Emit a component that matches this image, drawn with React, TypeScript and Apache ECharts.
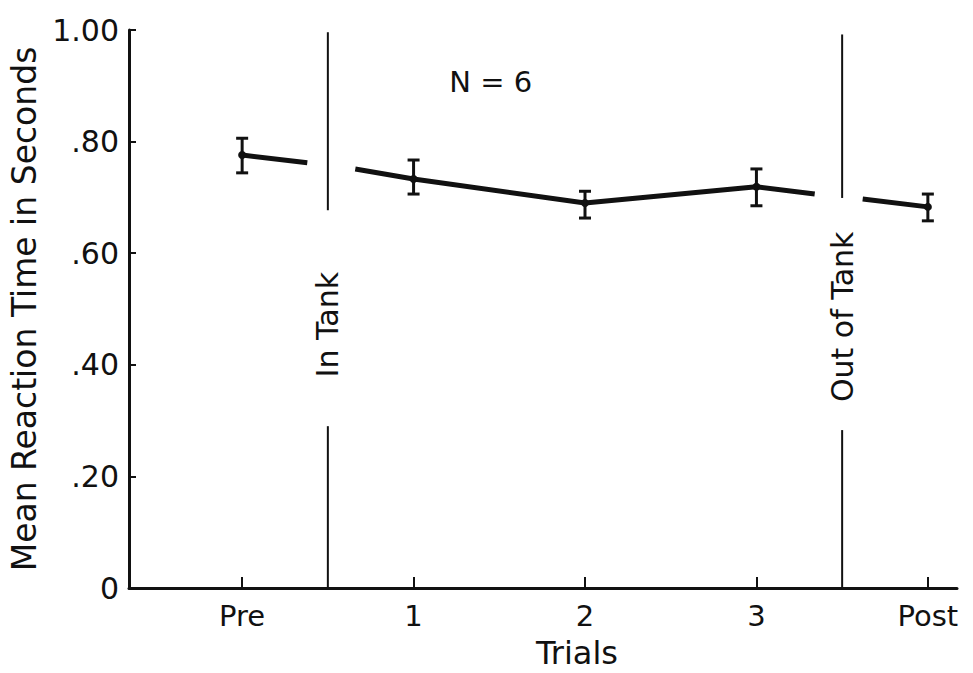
import React, { useEffect, useRef } from "react";
import * as echarts from "echarts";

// ---- data ----
const trialLabels = ["Pre", "1", "2", "3", "Post"];
const trialPos = [0, 1, 2, 3, 4];
const meanRT = [0.776, 0.733, 0.69, 0.719, 0.683];
const errLow = [0.744, 0.706, 0.663, 0.685, 0.658];
const errHigh = [0.806, 0.767, 0.711, 0.751, 0.706];

// broken connecting line: partial stubs near the phase dividers
const preStubEnd = [0.38, 0.762];
const tankStubStart = [0.66, 0.751];
const tankStubEnd = [3.34, 0.706];
const postStubStart = [3.62, 0.697];

// phase dividers
const dividerX = [0.5, 3.5];
const dividerLabels = ["In Tank", "Out of Tank"];
const dividerTop = [0.996, 0.992];
const dividerGapTop = [0.677, 0.699];
const dividerGapBottom = [0.29, 0.283];
const dividerLabelY = [0.472, 0.486];

const sampleNote = "N = 6";
const sampleNotePos = [1.45, 0.907];

const yTicks = [0, 0.2, 0.4, 0.6, 0.8, 1.0];

const FONT = "DejaVu Sans";
const INK = "#111";

export default function App() {
  const ref = useRef<HTMLDivElement>(null);

  useEffect(() => {
    if (!ref.current) return;
    const chart = echarts.init(ref.current, undefined, { renderer: "svg" });

    const lineSeries = (data: number[][]) => ({
      type: "line",
      data,
      showSymbol: false,
      symbol: "none",
      lineStyle: { color: INK, width: 5 },
      silent: true,
      z: 3,
    });

    const dividerSeries: any[] = [];
    dividerX.forEach((x, i) => {
      dividerSeries.push({
        type: "line",
        data: [
          [x, dividerTop[i]],
          [x, dividerGapTop[i]],
        ],
        symbol: "none",
        lineStyle: { color: INK, width: 2 },
        silent: true,
      });
      dividerSeries.push({
        type: "line",
        data: [
          [x, dividerGapBottom[i]],
          [x, 0],
        ],
        symbol: "none",
        lineStyle: { color: INK, width: 2 },
        silent: true,
      });
    });

    const textLabelStyle = {
      show: true,
      position: "inside",
      fontFamily: FONT,
      color: INK,
      opacity: 1,
      textBorderWidth: 0,
    };

    const option: any = {
      animation: false,
      backgroundColor: "#fff",
      textStyle: { fontFamily: FONT, color: INK },
      grid: { left: 128, right: 16, top: 30, bottom: 85, containLabel: false },
      xAxis: {
        type: "value",
        min: -0.66,
        max: 4.17,
        splitLine: { show: false },
        axisLine: { show: true, onZero: false, lineStyle: { color: INK, width: 3 } },
        axisTick: {
          show: true,
          customValues: trialPos,
          inside: true,
          length: 11,
          lineStyle: { color: INK, width: 2 },
        },
        axisLabel: {
          customValues: trialPos,
          formatter: (v: number) => trialLabels[Math.round(v)],
          fontSize: 29,
          fontFamily: FONT,
          color: INK,
          margin: 13,
        },
      },
      yAxis: {
        type: "value",
        min: 0,
        max: 1,
        interval: 0.2,
        splitLine: { show: false },
        axisLine: { show: true, onZero: false, lineStyle: { color: INK, width: 3 } },
        axisTick: {
          show: true,
          inside: true,
          length: 7,
          customValues: yTicks,
          lineStyle: { color: INK, width: 2 },
        },
        axisLabel: {
          customValues: yTicks,
          formatter: (v: number) =>
            v === 0 ? "0" : v >= 0.999 ? "1.00" : v.toFixed(2).slice(1),
          fontSize: 30,
          fontFamily: FONT,
          color: INK,
          margin: 10,
        },
        name: "Mean Reaction Time in Seconds",
        nameLocation: "middle",
        nameGap: 88,
        nameTextStyle: { fontSize: 33, fontFamily: FONT, color: INK },
      },
      graphic: [
        {
          type: "text",
          x: 577,
          y: 653,
          style: {
            text: "Trials",
            fontSize: 32,
            fontFamily: FONT,
            fill: INK,
            align: "center",
            verticalAlign: "middle",
          },
        },
      ],
      series: [
        ...dividerSeries,
        lineSeries([[trialPos[0], meanRT[0]], preStubEnd]),
        lineSeries([
          tankStubStart,
          ...[1, 2, 3].map((i) => [trialPos[i], meanRT[i]]),
          tankStubEnd,
        ]),
        lineSeries([postStubStart, [trialPos[4], meanRT[4]]]),
        {
          type: "scatter",
          data: trialPos.map((x, i) => [x, meanRT[i]]),
          symbol: "circle",
          symbolSize: 8,
          itemStyle: { color: INK, opacity: 1 },
          silent: true,
          z: 4,
        },
        {
          type: "custom",
          data: trialPos.map((x, i) => [x, errLow[i], errHigh[i]]),
          renderItem: (params: any, api: any) => {
            const x = api.value(0);
            const lo = api.coord([x, api.value(1)]);
            const hi = api.coord([x, api.value(2)]);
            const w = 6;
            const style = { stroke: INK, lineWidth: 3 };
            return {
              type: "group",
              children: [
                { type: "line", shape: { x1: lo[0], y1: lo[1], x2: hi[0], y2: hi[1] }, style },
                { type: "line", shape: { x1: hi[0] - w, y1: hi[1], x2: hi[0] + w, y2: hi[1] }, style },
                { type: "line", shape: { x1: lo[0] - w, y1: lo[1], x2: lo[0] + w, y2: lo[1] }, style },
              ],
            };
          },
          silent: true,
          z: 5,
        },
        {
          type: "scatter",
          data: dividerX.map((x, i) => ({
            value: [x, dividerLabelY[i]],
            label: { formatter: dividerLabels[i] },
          })),
          symbolSize: 1,
          itemStyle: { color: "rgba(0,0,0,0)", opacity: 1 },
          label: { ...textLabelStyle, rotate: 90, fontSize: 30 },
          silent: true,
        },
        {
          type: "scatter",
          data: [{ value: sampleNotePos, label: { formatter: sampleNote } }],
          symbolSize: 1,
          itemStyle: { color: "rgba(0,0,0,0)", opacity: 1 },
          label: { ...textLabelStyle, fontSize: 29 },
          silent: true,
        },
      ],
    };

    chart.setOption(option);
    return () => chart.dispose();
  }, []);

  return (
    <div
      ref={ref}
      style={{ position: "absolute", left: 0, top: 0, width: 973, height: 673, background: "#fff" }}
    />
  );
}
